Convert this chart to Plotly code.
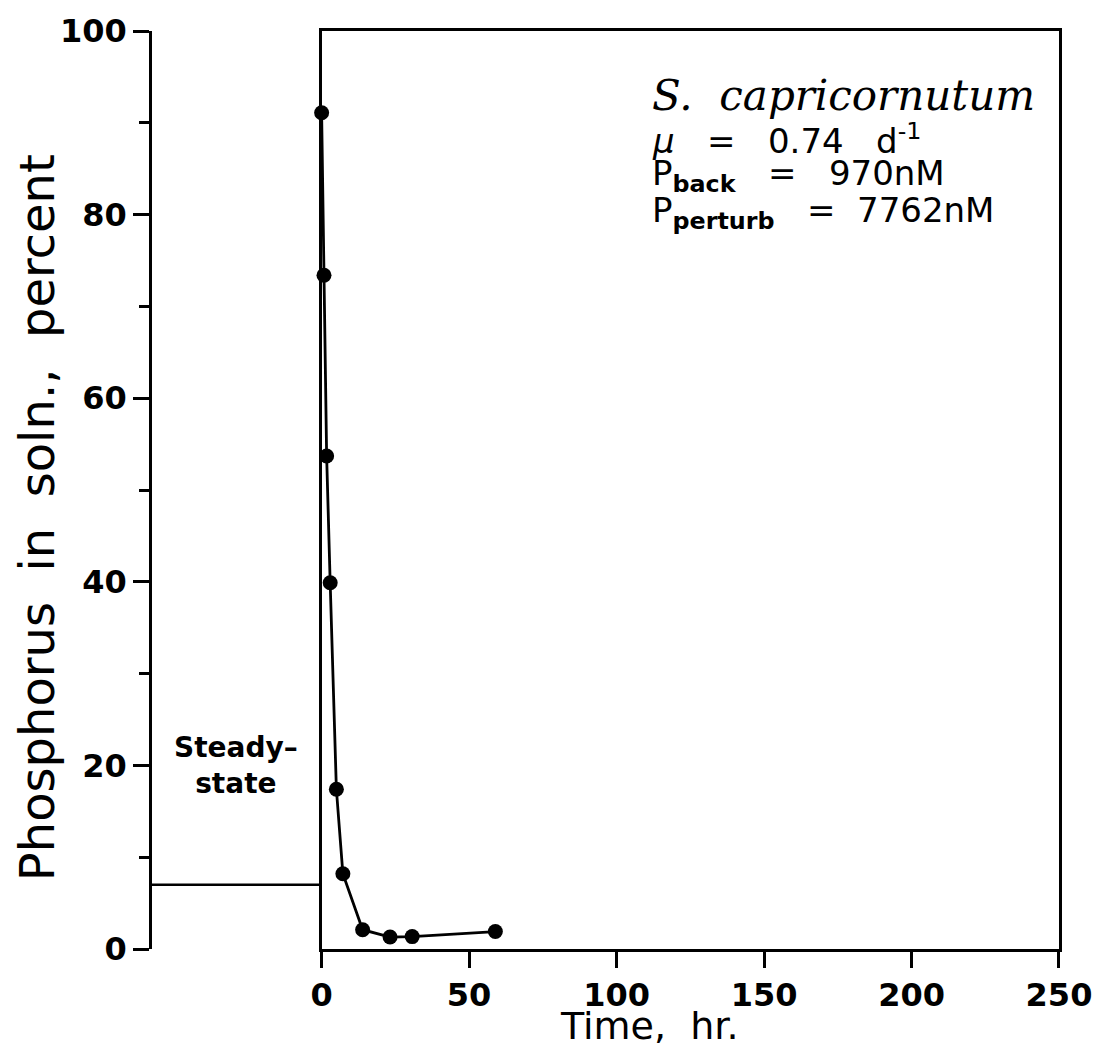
import plotly.graph_objects as go

# Data
time_hr = [0, 0.8, 1.7, 2.9, 5.0, 7.2, 13.9, 23.2, 30.7, 58.9]
p_percent = [91.1, 73.4, 53.7, 39.9, 17.4, 8.2, 2.1, 1.3, 1.35, 1.9]
steady_x = [-57.5, 0]
steady_y = [7.0, 7.0]
x_ticks = [0, 50, 100, 150, 200, 250]
y_ticks = [0, 20, 40, 60, 80, 100]

FONT = "DejaVu Sans"
TICKFONT = dict(family=FONT, size=32, weight="bold", color="black")
fig = go.Figure()

fig.add_trace(go.Scatter(x=steady_x, y=steady_y, mode="lines", xaxis="x", yaxis="y",
                         line=dict(color="black", width=2.5), showlegend=False, cliponaxis=False))
fig.add_trace(go.Scatter(x=time_hr, y=p_percent, mode="lines+markers", xaxis="x2", yaxis="y2",
                         line=dict(color="black", width=2.8),
                         marker=dict(color="black", size=15), showlegend=False, cliponaxis=False))

f = 171.5 / 917.0
fig.update_layout(
    width=1104, height=1048,
    margin=dict(l=152, r=35, t=29, b=99),
    paper_bgcolor="white", plot_bgcolor="white",
    font=dict(family=FONT, color="black", size=33),
    xaxis=dict(domain=[0, f], range=[-57.5, 0], showline=False, showgrid=False,
               zeroline=False, showticklabels=False, ticks="", anchor="y"),
    xaxis2=dict(domain=[f, 1], range=[0, 250], showline=True, linecolor="black", linewidth=2.5,
                mirror=True, showgrid=False, zeroline=False, ticks="outside", ticklen=16,
                tickwidth=2.5, tickcolor="black", tickvals=x_ticks, anchor="y2",
                tickfont=TICKFONT),
    yaxis=dict(range=[0, 100], showline=True, linecolor="black", linewidth=2.5, showgrid=False,
               zeroline=False, ticks="outside", ticklen=16, tickwidth=2.5, tickcolor="black",
               tickvals=y_ticks, anchor="x",
               minor=dict(ticks="outside", ticklen=10, tickwidth=2.5, tickcolor="black", dtick=10),
               tickfont=TICKFONT),
    yaxis2=dict(range=[0, 100], overlaying="y", anchor="x2", showline=True, linecolor="black",
                linewidth=2.5, mirror=True, showgrid=False, zeroline=False, ticks="",
                showticklabels=False),
)

ann = []
ann.append(dict(text="Phosphorus  in  soln.,  percent", xref="paper", yref="paper",
                x=(36 - 152) / 917, y=(949 - 517) / 920, textangle=-90, showarrow=False,
                font=dict(family=FONT, size=48), xanchor="center", yanchor="middle"))
ann.append(dict(text="Time,  hr.", xref="paper", yref="paper",
                x=(655 - 152) / 917, y=(949 - 1026) / 920, showarrow=False,
                font=dict(family=FONT, size=38), xanchor="center", yanchor="middle"))
ann.append(dict(text="Steady–<br>state", xref="x", yref="y", x=-29, y=20, showarrow=False,
                font=dict(family=FONT, size=28, weight="bold"), xanchor="center", yanchor="middle"))
x0 = (655 - 323.5) / 2.982
lines = [
    ("<i>S.  capricornutum</i>", 94, "DejaVu Serif", 42, "normal"),
    ("<i>μ</i>   =   0.74   d<sup>-1</sup>", 137, FONT, 34, "normal"),
    ("P<sub><b>back</b></sub>   =   970nM", 174, FONT, 34, "normal"),
    ("P<sub><b>perturb</b></sub>   =  7762nM", 211, FONT, 34, "normal"),
]
for t, py, fam, sz, w in lines:
    ann.append(dict(text=t, xref="x2", yref="y2", x=x0, y=(949 - py) / 9.2, showarrow=False,
                    font=dict(family=fam, size=sz, weight=w), xanchor="left", yanchor="middle"))
fig.update_layout(annotations=ann)

fig.write_html("out.html")
